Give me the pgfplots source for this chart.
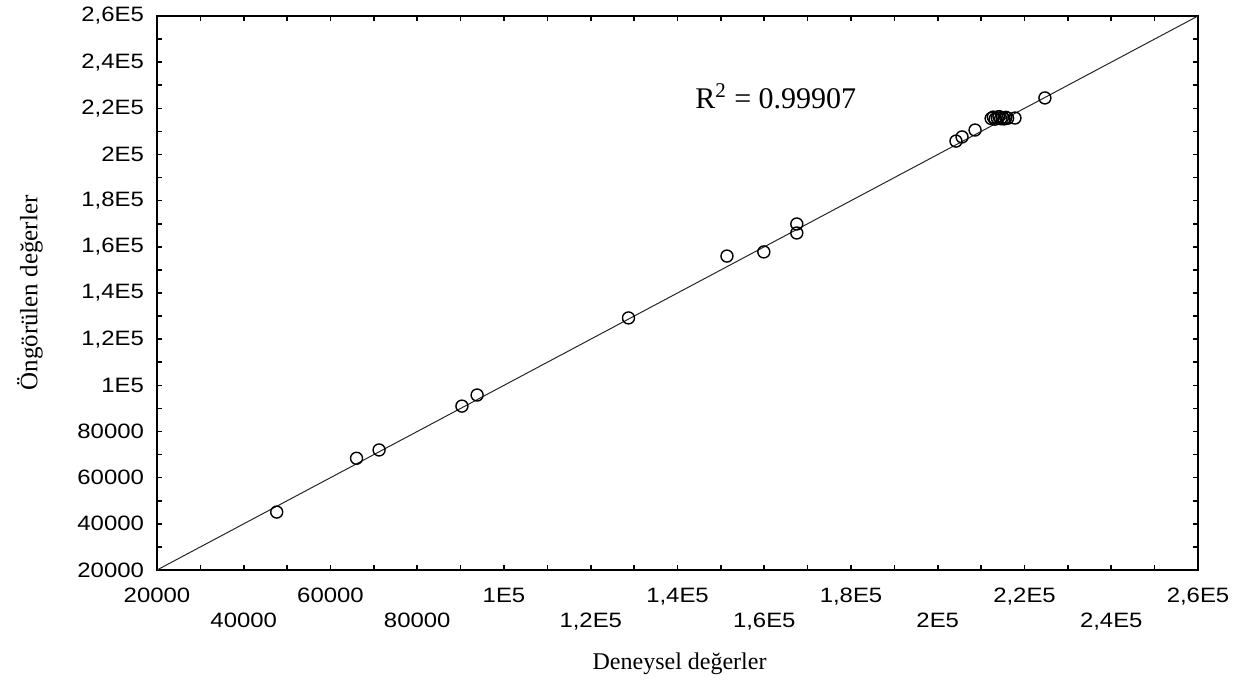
\documentclass[border=0pt]{standalone}
\usepackage{fontspec}
\setmainfont{Liberation Serif}
\newfontfamily\tickfont[FakeStretch=1.15]{Liberation Sans}
\usepackage{pgfplots}
\pgfplotsset{compat=1.18}
\begin{document}
\begin{tikzpicture}
\useasboundingbox (-78.5pt,-59.5pt) rectangle (541.5pt,285pt);
\begin{axis}[
  at={(0,0)}, anchor=south west,
  scale only axis, width=520.5pt, height=277pt,
  xmin=20000, xmax=260000, ymin=20000, ymax=260000,
  axis line style={line width=0.8pt},
  tick align=inside, tick pos=both,
  major tick length=2.5pt, minor tick length=2.5pt,
  every tick/.style={black, line width=0.8pt},
  scaled ticks=false,
  xtick={20000,60000,100000,140000,180000,220000,260000},
  xticklabels={20000,60000,1E5,{1,4E5},{1,8E5},{2,2E5},{2,6E5}},
  extra x ticks={40000,80000,120000,160000,200000,240000},
  extra x tick labels={40000,80000,{1,2E5},{1,6E5},2E5,{2,4E5}},
  extra x tick style={xticklabel style={yshift=-12.5pt}},
  minor xtick={30000,50000,70000,90000,110000,130000,150000,170000,190000,210000,230000,250000},
  ytick={20000,40000,60000,80000,100000,120000,140000,160000,180000,200000,220000,240000,260000},
  yticklabels={20000,40000,60000,80000,1E5,{1,2E5},{1,4E5},{1,6E5},{1,8E5},2E5,{2,2E5},{2,4E5},{2,6E5}},
  minor ytick={30000,50000,70000,90000,110000,130000,150000,170000,190000,210000,230000,250000},
  xticklabel style={font=\tickfont\fontsize{10.4}{12}\selectfont, yshift=-5.5pt},
  yticklabel style={font=\tickfont\fontsize{10.4}{12}\selectfont, xshift=-3pt},
  xlabel={Deneysel değerler},
  ylabel={Öngörülen değerler},
  every axis x label/.style={at={(axis description cs:0.502,-0.17)}, anchor=center, font=\fontsize{12}{14}\selectfont},
  every axis y label/.style={at={(axis description cs:-0.122,0.5)}, rotate=90, anchor=center, font=\fontsize{12.5}{14}\selectfont},
  clip=false,
]
\addplot[no marks, black!85, line width=0.5pt] coordinates {(20000,20000) (260000,260000)};
\addplot[only marks, mark=o, mark size=3pt, mark options={black, line width=0.7pt}] coordinates {
  (47600,45100) (66000,68400) (71200,72000) (90300,91000) (93800,95800)
  (128700,129200) (151400,156000) (159900,157800) (167500,166000) (167500,169900)
  (204200,205800) (205600,207600) (208600,210600)
  (212300,215600) (212800,216200) (213200,215300) (213700,215900) (214100,216400)
  (214500,215500) (214900,216000) (215300,215400) (215700,216100) (216100,215700)
  (217800,215800) (224700,224500)
};
\node[anchor=base west, font=\fontsize{15}{18}\selectfont, inner sep=0pt] at (axis cs:144000,220100) {R\textsuperscript{2} = 0.99907};
\end{axis}
\end{tikzpicture}
\end{document}
